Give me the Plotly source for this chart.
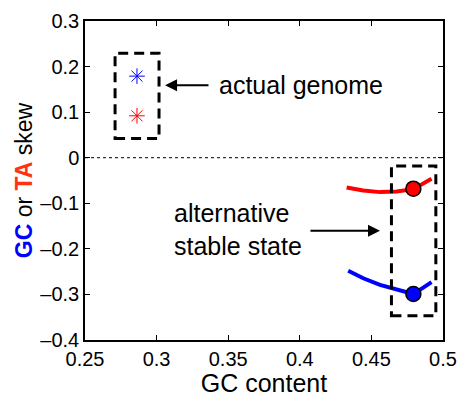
import plotly.graph_objects as go

# ---- data ----
actual_gc = [0.2863, 0.2863]
actual_skew_gc = [0.179]
actual_skew_ta = [0.092]

red_x = [0.4327, 0.4443, 0.456, 0.4676, 0.4793, 0.4862, 0.492]
red_y = [-0.0653, -0.0718, -0.0755, -0.0740, -0.0689, -0.057, -0.046]
blue_x = [0.4338, 0.4443, 0.456, 0.4676, 0.4793, 0.4862, 0.492]
blue_y = [-0.248, -0.2645, -0.279, -0.290, -0.299, -0.285, -0.273]
stable_x = [0.4793]
stable_red_y = [-0.068]
stable_blue_y = [-0.299]

x_ticks = [0.25, 0.3, 0.35, 0.4, 0.45, 0.5]
x_ticklabels = ["0.25", "0.3", "0.35", "0.4", "0.45", "0.5"]
y_ticks = [-0.4, -0.3, -0.2, -0.1, 0, 0.1, 0.2, 0.3]
y_ticklabels = ["\u20130.4", "\u20130.3", "\u20130.2", "\u20130.1", "0", "0.1", "0.2", "0.3"]

FONT = "Liberation Sans, Arial, sans-serif"

fig = go.Figure()

fig.add_trace(go.Scatter(x=red_x, y=red_y, mode="lines",
                         line=dict(color="#ff0000", width=4), showlegend=False))
fig.add_trace(go.Scatter(x=blue_x, y=blue_y, mode="lines",
                         line=dict(color="#0000ff", width=4), showlegend=False))
fig.add_trace(go.Scatter(x=stable_x, y=stable_red_y, mode="markers",
                         marker=dict(color="#ff0000", size=15, line=dict(color="black", width=1.5)),
                         showlegend=False))
fig.add_trace(go.Scatter(x=stable_x, y=stable_blue_y, mode="markers",
                         marker=dict(color="#0000ff", size=15, line=dict(color="black", width=1.5)),
                         showlegend=False))
fig.add_trace(go.Scatter(x=actual_gc[:1], y=actual_skew_gc, mode="markers",
                         marker=dict(symbol="asterisk-open", color="#0000ff", size=13,
                                     line=dict(color="#0000ff", width=1)),
                         showlegend=False))
fig.add_trace(go.Scatter(x=actual_gc[1:], y=actual_skew_ta, mode="markers",
                         marker=dict(symbol="asterisk-open", color="#ff0000", size=13,
                                     line=dict(color="#ff0000", width=1)),
                         showlegend=False))

# zero dotted line
fig.add_shape(type="line", xref="paper", yref="y", x0=0, x1=1, y0=0, y1=0,
              line=dict(color="black", width=1, dash="dot"))
# dashed boxes
fig.add_shape(type="rect", x0=0.271, x1=0.3017, y0=0.042, y1=0.229,
              line=dict(color="black", width=3, dash="10px,6px"))
fig.add_shape(type="rect", x0=0.464, x1=0.495, y0=-0.347, y1=-0.018,
              line=dict(color="black", width=3, dash="10px,6px"))

# annotations
fig.add_annotation(x=0.3059, y=0.159, ax=0.3373, ay=0.159, axref="x", ayref="y",
                   text="", showarrow=True, arrowhead=2, arrowsize=1.2, arrowwidth=2,
                   arrowcolor="black")
fig.add_annotation(x=0.4008, y=0.159, text="actual genome", showarrow=False,
                   font=dict(family=FONT, size=25, color="black"))
fig.add_annotation(x=0.456, y=-0.160, ax=0.4064, ay=-0.160, axref="x", ayref="y",
                   text="", showarrow=True, arrowhead=2, arrowsize=1.2, arrowwidth=2,
                   arrowcolor="black")
fig.add_annotation(x=0.3108, y=-0.158, text="alternative<br>stable state", showarrow=False,
                   xanchor="left", align="left",
                   font=dict(family=FONT, size=25, color="black"))

fig.update_xaxes(range=[0.25, 0.5], tickvals=x_ticks, ticktext=x_ticklabels,
                 showline=True, linecolor="black", linewidth=1.5, mirror="allticks",
                 ticks="inside", ticklen=5, tickcolor="black", showgrid=False, zeroline=False,
                 automargin=False,
                 tickfont=dict(family=FONT, size=20, color="black"),
                 title=dict(text="GC content", font=dict(family=FONT, size=25, color="black"),
                            standoff=8))
fig.update_yaxes(range=[-0.4, 0.3], tickvals=y_ticks, ticktext=y_ticklabels,
                 showline=True, linecolor="black", linewidth=1.5, mirror="allticks",
                 ticks="inside", ticklen=5, tickcolor="black", showgrid=False, zeroline=False,
                 automargin=False,
                 tickfont=dict(family=FONT, size=20, color="black"),
                 title=dict(text="<b><span style='color:#0000ff'>GC</span></b> or "
                                 "<b><span style='color:#ff3311'>TA</span></b> skew",
                            font=dict(family=FONT, size=23, color="black"), standoff=1))

fig.update_layout(width=457, height=397, plot_bgcolor="white", paper_bgcolor="white",
                  margin=dict(l=85, r=14, t=21, b=57))

fig.write_html("out.html", config={"displayModeBar": False},
               post_script="document.body.style.margin='0';")
